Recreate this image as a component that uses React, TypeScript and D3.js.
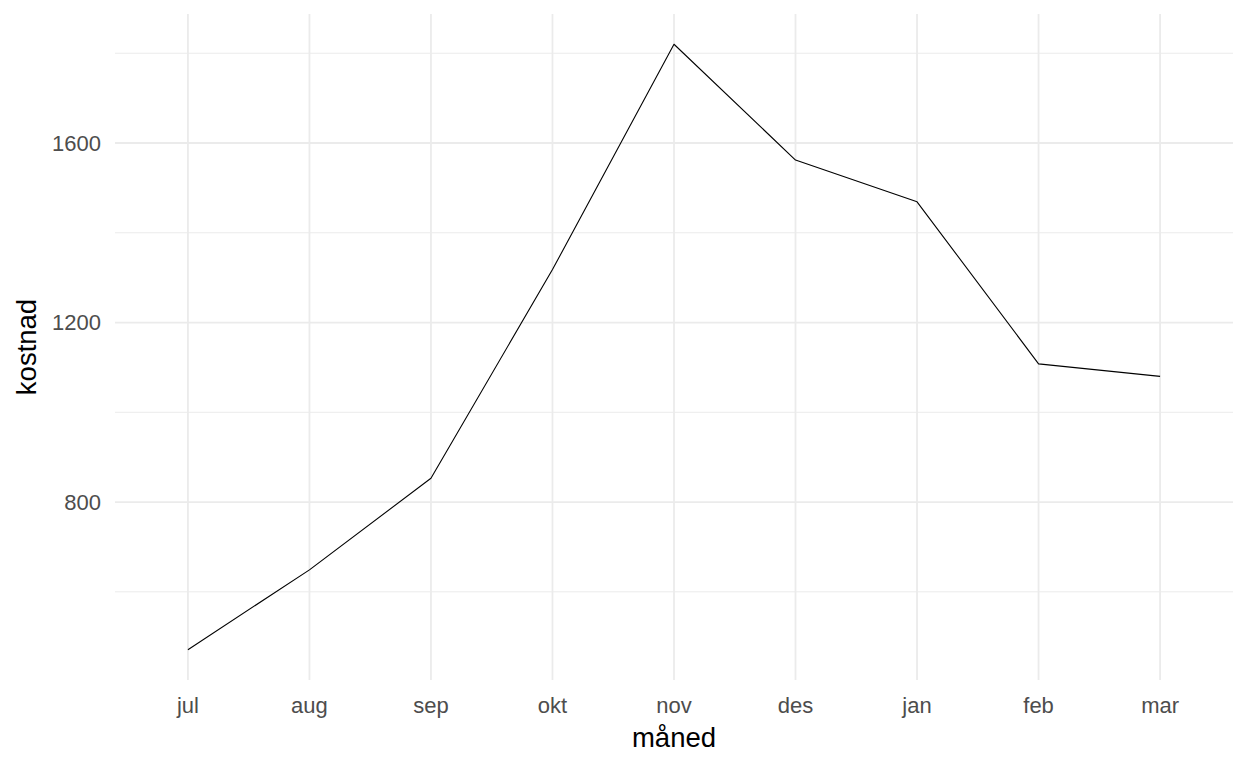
import React from "react";
import * as d3 from "d3";

const months = ["jul", "aug", "sep", "okt", "nov", "des", "jan", "feb", "mar"];
const kostnad = [471, 649, 853, 1318, 1820, 1562, 1469, 1108, 1080];
const majorTicks = [800, 1200, 1600];
const minorTicks = [600, 1000, 1400, 1800];

const W = 1248;
const H = 768;
const left = 115;
const right = 1233;
const top = 14;
const bottom = 680;
const FONT = "'Liberation Sans', Arial, sans-serif";

export default function App() {
  const x = d3.scalePoint<string>().domain(months).range([left, right]).padding(0.6);
  const lo = d3.min(kostnad)!;
  const hi = d3.max(kostnad)!;
  const ext = (hi - lo) * 0.05;
  const y = d3.scaleLinear().domain([lo - ext, hi + ext]).range([bottom, top]);
  const data = months.map((m, i) => ({ m, v: kostnad[i] }));
  const line = d3
    .line<{ m: string; v: number }>()
    .x((d) => x(d.m)!)
    .y((d) => y(d.v));

  return (
    <svg
      width={W}
      height={H}
      style={{ position: "absolute", left: 0, top: 0, background: "#fff" }}
      fontFamily={FONT}
    >
      <rect x={0} y={0} width={W} height={H} fill="#fff" />
      {minorTicks.map((t) => (
        <line key={"mn" + t} x1={left} x2={right} y1={y(t)} y2={y(t)} stroke="#EBEBEB" strokeWidth={1} />
      ))}
      {majorTicks.map((t) => (
        <line key={"mj" + t} x1={left} x2={right} y1={y(t)} y2={y(t)} stroke="#EBEBEB" strokeWidth={1.8} />
      ))}
      {months.map((m) => (
        <line key={"vx" + m} x1={x(m)} x2={x(m)} y1={top} y2={bottom} stroke="#EBEBEB" strokeWidth={1.8} />
      ))}
      <path d={line(data)!} fill="none" stroke="#000" strokeWidth={1.1} strokeLinejoin="round" />
      {majorTicks.map((t) => (
        <text key={"yt" + t} x={101} y={y(t)} dy="0.35em" textAnchor="end" fontSize={22} fill="#4D4D4D">
          {t}
        </text>
      ))}
      {months.map((m) => (
        <text key={"xt" + m} x={x(m)} y={713} textAnchor="middle" fontSize={22} fill="#4D4D4D">
          {m}
        </text>
      ))}
      <text x={(left + right) / 2} y={747} textAnchor="middle" fontSize={27.5} fill="#000">
        måned
      </text>
      <text
        transform={`translate(36, ${(top + bottom) / 2}) rotate(-90)`}
        textAnchor="middle"
        fontSize={27.5}
        fill="#000"
      >
        kostnad
      </text>
    </svg>
  );
}
